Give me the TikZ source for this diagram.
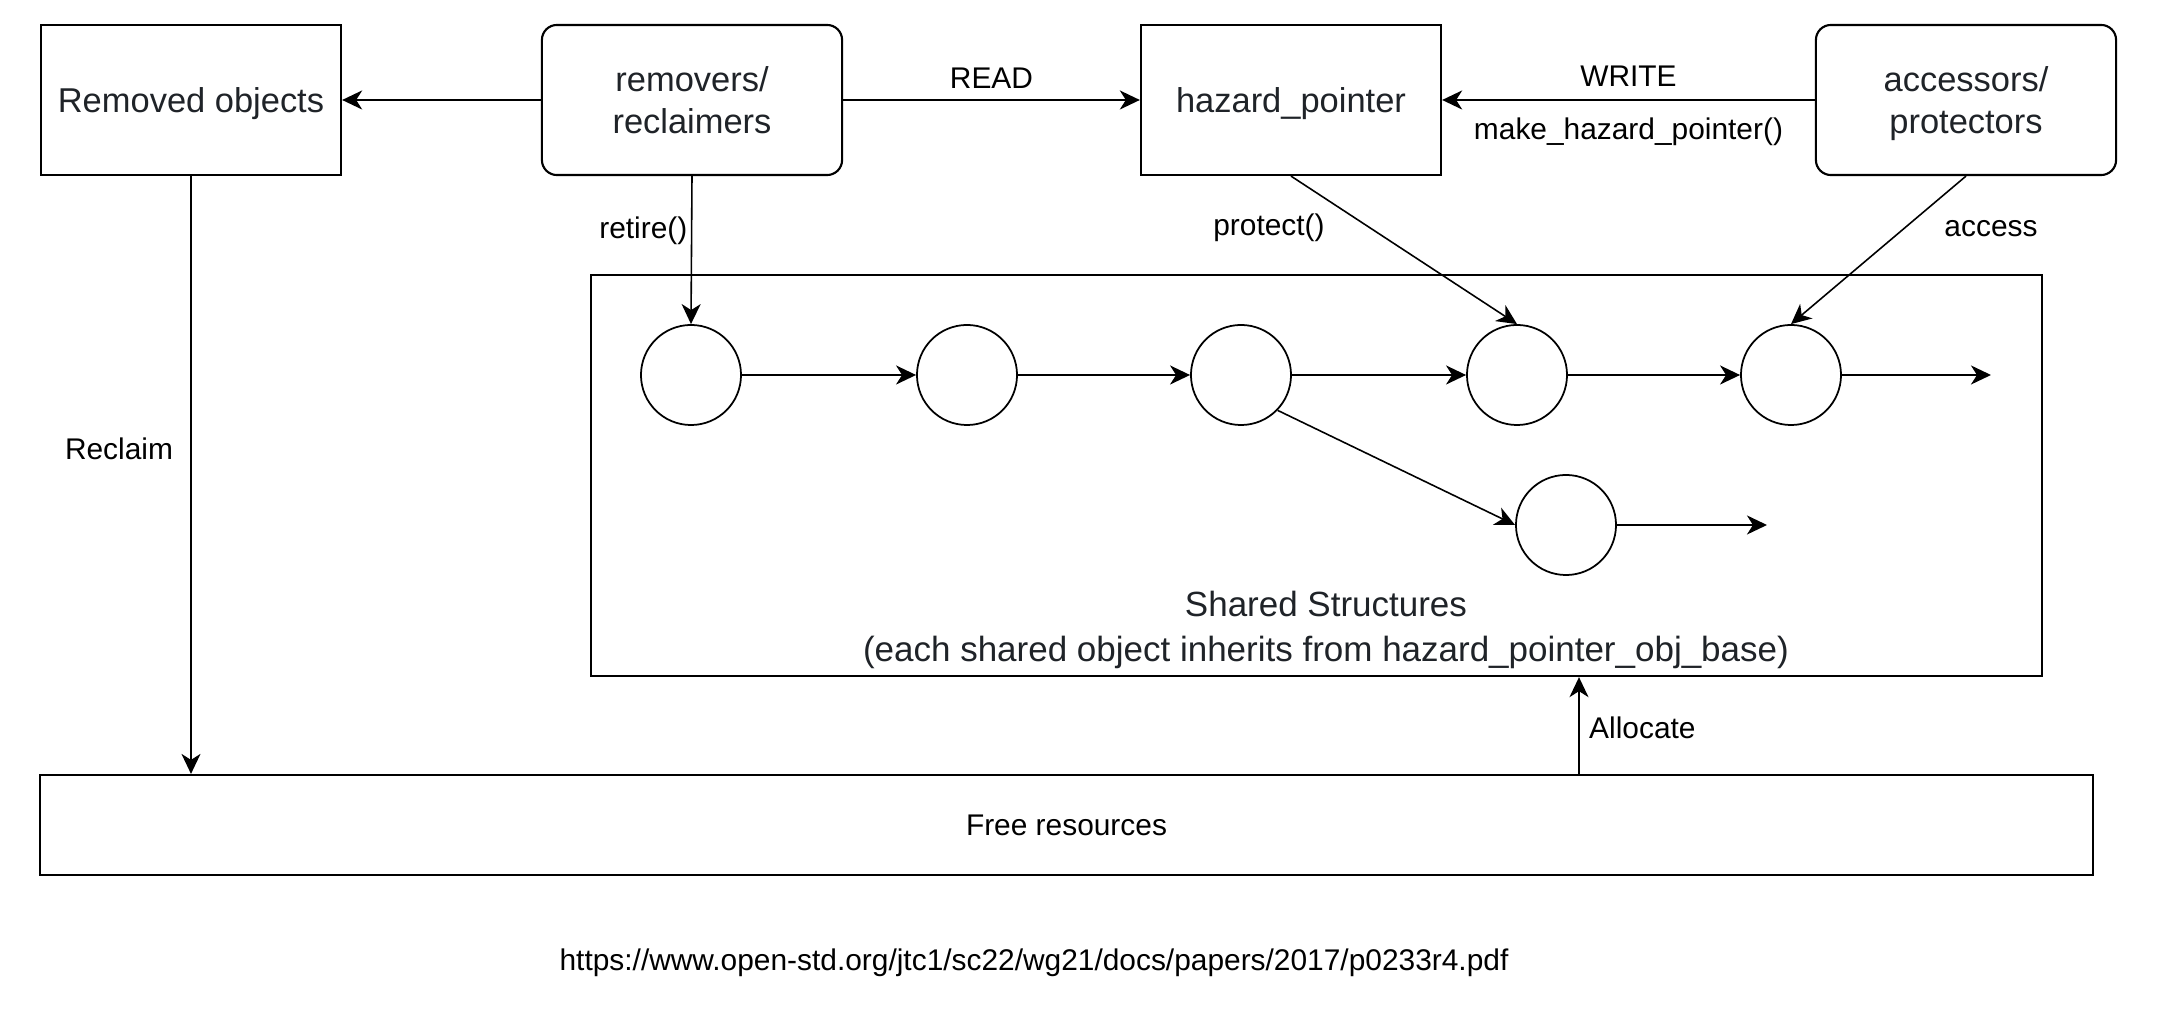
\documentclass[tikz,border=0pt]{standalone}
\usepackage{fontspec}
\setmainfont{Liberation Sans}
\usetikzlibrary{arrows.meta}
\definecolor{txt}{HTML}{1F2328}
\begin{document}
\begin{tikzpicture}[x=0.01cm,y=-0.01cm,
  box/.style={draw,line width=0.6pt,minimum width=3cm,minimum height=1.5cm,inner sep=0,align=center,font=\fontsize{9.8}{12}\selectfont,text=txt},
  rbox/.style={box,rounded corners=0.15cm},
  obj/.style={draw,circle,line width=0.5pt,minimum size=1cm,inner sep=0},
  lbl/.style={font=\fontsize{8.5}{10}\selectfont,inner sep=1pt},
  arr/.style={-{Stealth[length=0.2cm,width=0.19cm,inset=0.06cm]},line width=0.6pt},
  tarr/.style={arr,line width=0.45pt}]
\useasboundingbox (0,0) rectangle (2162,1010);

% top row boxes
\node[box] (rem) at (191,100) {\raisebox{0pt}[8.9pt][2pt]{Removed objects}};
\node[rbox] (rr) at (692,100) {removers/\\reclaimers};
\node[box] (hp) at (1291,100) {\raisebox{0pt}[8.9pt][2pt]{hazard\_pointer}};
\node[rbox] (ap) at (1966,100) {accessors/\\\raisebox{0pt}[\height][0pt]{protectors}};

% shared structures container
\node[draw,line width=0.6pt,minimum width=14.51cm,minimum height=4.01cm,inner sep=0] (ss) at (1316.5,475.5) {};
\node[align=center,font=\fontsize{9.95}{12.8}\selectfont,text=txt] (sst) at (1326,630) {Shared Structures\\(each shared object inherits from hazard\_pointer\_obj\_base)};

% free resources
\node[draw,line width=0.6pt,minimum width=20.51cm,minimum height=1cm,inner sep=0,font=\fontsize{8.5}{10}\selectfont] (fr) at (1066.5,825) {Free resources};

% objects
\node[obj] (c1) at (691,375) {};
\node[obj] (c2) at (967,375) {};
\node[obj] (c3) at (1241,375) {};
\node[obj] (c4) at (1517,375) {};
\node[obj] (c5) at (1791,375) {};
\node[obj] (c6) at (1566,525) {};
\coordinate (e1) at (1991,375);
\coordinate (e2) at (1767,525);

\draw[arr] (c1) -- (c2);
\draw[arr] (c2) -- (c3);
\draw[arr] (c3) -- (c4);
\draw[arr] (c4) -- (c5);
\draw[arr] (c5) -- (e1);
\draw[tarr] (c3.-44) -- (c6.west);
\draw[arr] (c6) -- (e2);

% top connectors
\draw[arr] (rr) -- node[lbl,above=0.065cm] (read) {READ} (hp);
\draw[arr] (rr) -- (rem);
\draw[arr] (ap) -- node[lbl,above=0.09cm] (write) {WRITE} node[lbl,below=0.13cm] (mk) {make\_hazard\_pointer()} (hp);
\draw[tarr] (rr.south) -- node[lbl,pos=0.37,anchor=east,xshift=0cm] (ret) {retire()} (c1.north);
\draw[tarr] (hp.south) -- (c4.north);
\node[lbl] (prot) at (1269,228) {protect()};
\draw[tarr] (ap.south) -- (c5.north);
\node[lbl] (acc) at (1991,229) {access};

% reclaim / allocate
\draw[tarr] (rem.south) -- (rem.south |- fr.north);
\node[lbl] (rec) at (119,449) {Reclaim};
\coordinate (alc) at (1579,775);
\draw[tarr] (alc) -- (alc |- ss.south);
\node[lbl,anchor=west] (all) at (1585,728) {Allocate};

% url
\node[lbl] (url) at (1034,963) {https://www.open-std.org/jtc1/sc22/wg21/docs/papers/2017/p0233r4.pdf};
\end{tikzpicture}
\end{document}
